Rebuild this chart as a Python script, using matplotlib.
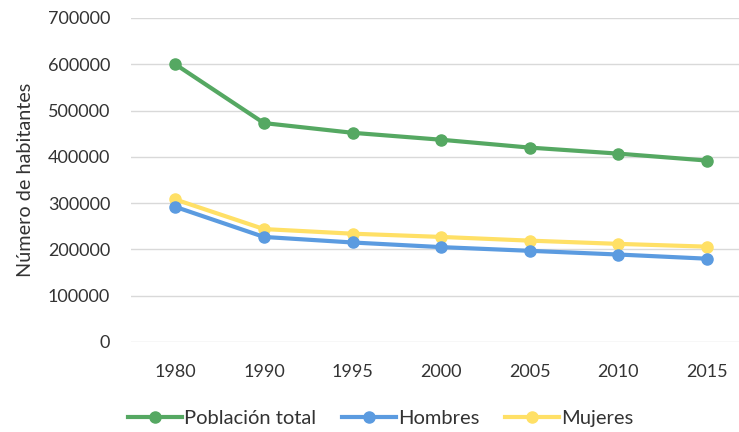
import matplotlib
matplotlib.use("Agg")
import matplotlib.pyplot as plt

years = ["1980", "1990", "1995", "2000", "2005", "2010", "2015"]
total = [600000, 473000, 452000, 437000, 420000, 407000, 392000]
hombres = [292000, 227000, 215000, 205000, 197000, 189000, 180000]
mujeres = [308000, 244000, 234000, 227000, 219000, 212000, 206000]
yticks = [0, 100000, 200000, 300000, 400000, 500000, 600000, 700000]

plt.rcParams['font.family'] = ['Lato', 'DejaVu Sans']

fig = plt.figure(figsize=(7.39, 4.32), dpi=100)
ax = fig.add_axes([131/739, 1-342/432, 1-131/739, (342-18)/432])

x = list(range(len(years)))
series = [(total, "Población total", "#55A862"),
          (hombres, "Hombres", "#5B9BE0"),
          (mujeres, "Mujeres", "#FFE066")]
lines = []
for vals, lab, col in series[::-1]:
    l, = ax.plot(x, vals, color=col, lw=3, marker='o', ms=8, label=lab, zorder=3)
    lines.append(l)
lines = lines[::-1]

ax.set_ylim(0, 700000)
ax.set_xlim(-0.5, (739-131)/88.6 - 0.5)
ax.set_yticks(yticks)
ax.set_yticklabels([str(v) for v in yticks])
ax.set_xticks(x)
ax.set_xticklabels(years)
ax.grid(axis='y', color='#D9D9D9', lw=1)
ax.set_axisbelow(True)
for s in ax.spines.values():
    s.set_visible(False)
ax.tick_params(length=0, labelsize=13, colors='#333333', pad=15)
ax.tick_params(axis='x', pad=16)
ax.set_ylabel("Número de habitantes", fontsize=14.3, color='#333333', labelpad=10)

fig.legend(lines, [l.get_label() for l in lines], loc='lower center',
           bbox_to_anchor=(0.515, -0.03), ncol=3, frameon=False, fontsize=14.5,
           handlelength=2.7, handletextpad=0.1, columnspacing=1.25,
           labelcolor='#333333')

fig.savefig("out.png", dpi=100)
